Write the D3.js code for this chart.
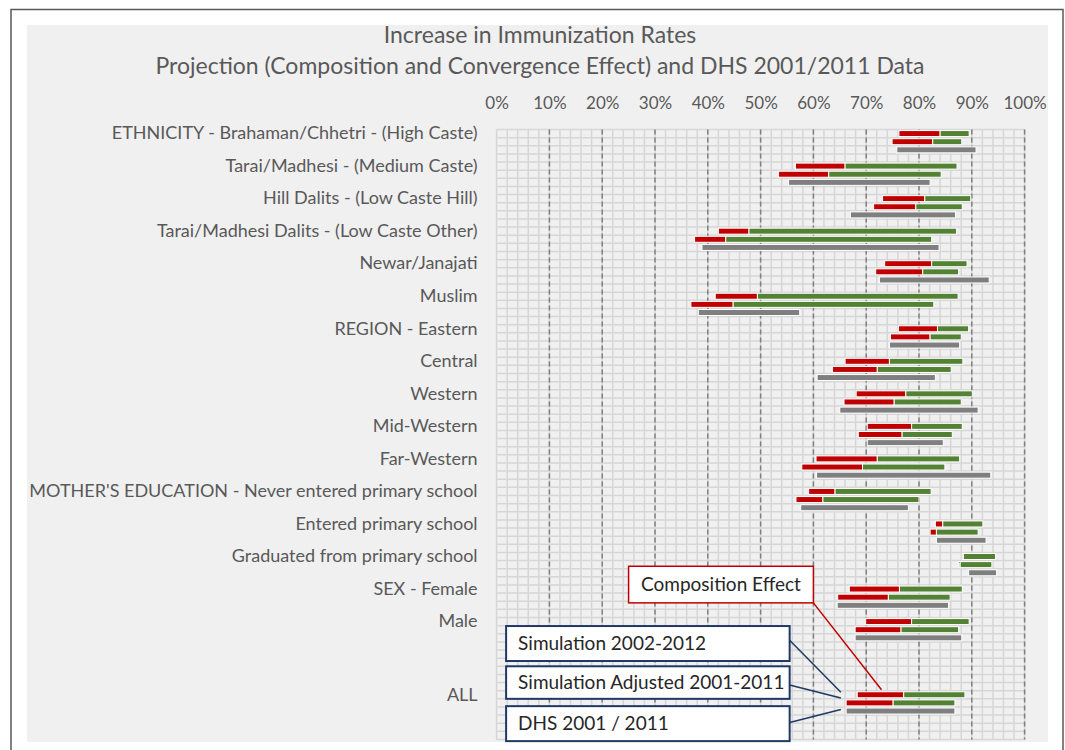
<!DOCTYPE html>
<meta charset="utf-8">
<title>Immunization</title>
<style>
  body { margin: 0; background: #fff; }
  text { font-family: Lato, "Open Sans", sans-serif; }
</style>
<body>
<script src="https://cdn.jsdelivr.net/npm/d3@7"></script>
<script>
// category labels, top to bottom
var categories = [
  "ETHNICITY - Brahaman/Chhetri - (High Caste)",
  "Tarai/Madhesi - (Medium Caste)",
  "Hill Dalits - (Low Caste Hill)",
  "Tarai/Madhesi Dalits - (Low Caste Other)",
  "Newar/Janajati",
  "Muslim",
  "REGION - Eastern",
  "Central",
  "Western",
  "Mid-Western",
  "Far-Western",
  "MOTHER'S EDUCATION - Never entered primary school",
  "Entered primary school",
  "Graduated from primary school",
  "SEX - Female",
  "Male",
  "ALL"
];

// Simulation 2002-2012: start, end of composition effect, end
var simStart = [76.2, 56.6, 73.1, 42.0, 73.5, 41.4, 76.1, 66.0, 68.1, 70.2, 60.5, 59.1, 83.1, 88.2, 66.8, 69.9, 68.3];
var simComp  = [84.0, 66.0, 81.1, 47.8, 82.4, 49.4, 83.5, 74.4, 77.5, 78.6, 72.1, 64.1, 84.5, 88.4, 76.3, 78.6, 77.1];
var simEnd   = [89.5, 87.2, 89.8, 87.1, 89.1, 87.4, 89.4, 88.3, 90.1, 88.2, 87.7, 82.3, 92.1, 94.5, 88.2, 89.5, 88.7];

// Simulation Adjusted 2001-2011
var adjStart = [74.9, 53.4, 71.4, 37.5, 71.8, 36.8, 74.6, 63.6, 65.8, 68.5, 57.8, 56.7, 82.1, 87.6, 64.6, 67.9, 66.2];
var adjComp  = [82.6, 62.9, 79.4, 43.4, 80.7, 44.8, 82.1, 72.1, 75.3, 76.8, 69.3, 61.8, 83.3, 87.8, 74.2, 76.6, 75.1];
var adjEnd   = [88.1, 84.2, 88.2, 82.4, 87.5, 82.8, 88.0, 86.1, 88.0, 86.3, 84.9, 80.0, 91.2, 93.8, 85.9, 87.5, 86.8];

// DHS 2001 / 2011
var dhs2001 = [75.8, 55.3, 67.0, 38.9, 72.5, 38.2, 74.4, 60.7, 65.0, 70.2, 60.6, 57.6, 83.3, 89.4, 64.5, 67.9, 66.2];
var dhs2011 = [90.8, 82.1, 86.9, 83.8, 93.3, 57.4, 87.7, 83.1, 91.2, 84.6, 93.6, 78.0, 92.7, 94.7, 85.6, 88.1, 86.8];

var xTicks = [0, 10, 20, 30, 40, 50, 60, 70, 80, 90, 100];

var W = 1065, H = 750;
var nRows = 75;
var red = "#c00000", green = "#548235", grey = "#7f7f7f", txt = "#595959";

var svg = d3.select("body").append("svg")
  .attr("width", W).attr("height", H);

// chart frame + plot area background
svg.append("rect").attr("x", 11).attr("y", 9.5).attr("width", 1052).attr("height", 760)
  .attr("fill", "#fff").attr("stroke", "#595959").attr("stroke-width", 1.5);
svg.append("rect").attr("x", 27).attr("y", 25).attr("width", 1021).attr("height", 717)
  .attr("fill", "#f0f0f0");

var x = d3.scaleLinear().domain([0, 100]).range([496.6, 1024.6]);
var y = d3.scaleBand().domain(d3.range(nRows)).range([129.5, 739.5]);
var bh = y.bandwidth();

// first row of each category (ALL sits one row lower than the 4-row rhythm)
function firstRow(i) { return i * 4 + (categories[i] === "ALL" ? 5 : 0); }

// grid
var grid = svg.append("g");
grid.selectAll(".h").data(d3.range(nRows + 1)).enter().append("line")
  .attr("x1", x(0)).attr("x2", x(100))
  .attr("y1", function(d) { return y.range()[0] + d * bh; })
  .attr("y2", function(d) { return y.range()[0] + d * bh; })
  .attr("stroke", "#d6d6d6").attr("stroke-width", 1.5);
grid.selectAll(".v").data(d3.range(0, 101, 2)).enter().append("line")
  .attr("x1", function(d) { return x(d); }).attr("x2", function(d) { return x(d); })
  .attr("y1", y.range()[0]).attr("y2", y.range()[1])
  .attr("stroke", "#d6d6d6").attr("stroke-width", 1.5);
grid.selectAll(".m").data(xTicks.slice(1)).enter().append("line")
  .attr("x1", function(d) { return x(d); }).attr("x2", function(d) { return x(d); })
  .attr("y1", y.range()[0]).attr("y2", y.range()[1])
  .attr("stroke", "#7f7f7f").attr("stroke-width", 1.5)
  .attr("stroke-dasharray", "5,3");

// titles
svg.append("text").attr("x", 540).attr("y", 43).attr("text-anchor", "middle")
  .style("font-size", "23px").attr("fill", txt).text("Increase in Immunization Rates");
svg.append("text").attr("x", 540).attr("y", 74).attr("text-anchor", "middle")
  .style("font-size", "23px").attr("fill", txt)
  .text("Projection (Composition and Convergence Effect) and DHS 2001/2011 Data");

// x axis on top
var xAxis = svg.append("g").attr("transform", "translate(0,111)")
  .call(d3.axisTop(x).tickValues(xTicks).tickFormat(function(d) { return d + "%"; })
    .tickSize(0).tickPadding(2));
xAxis.select(".domain").remove();
xAxis.selectAll("text").style("font-size", "17px").attr("fill", txt).style("font-family", "Lato");

// category labels
var rowToCat = {};
categories.forEach(function(c, i) { rowToCat[firstRow(i)] = c; });
var yAxis = svg.append("g").attr("transform", "translate(" + x(0) + ",0)")
  .call(d3.axisLeft(y).tickValues(categories.map(function(c, i) { return firstRow(i); }))
    .tickFormat(function(r) { return rowToCat[r]; })
    .tickSize(0).tickPadding(19));
yAxis.select(".domain").remove();
yAxis.selectAll("text").style("font-size", "18px").attr("fill", txt).style("font-family", "Lato");

// bars
var rows = [];
categories.forEach(function(c, i) {
  var r = firstRow(i);
  rows.push({row: r, a: simStart[i], b: simComp[i], color: red});
  rows.push({row: r, a: simComp[i], b: simEnd[i], color: green});
  rows.push({row: r + 1, a: adjStart[i], b: adjComp[i], color: red});
  rows.push({row: r + 1, a: adjComp[i], b: adjEnd[i], color: green});
  rows.push({row: r + 2, a: dhs2001[i], b: dhs2011[i], color: grey});
});
var barH = 6;
svg.append("g").selectAll("rect").data(rows).enter().append("rect")
  .attr("x", function(d) { return x(d.a); })
  .attr("width", function(d) { return Math.max(0.5, x(d.b) - x(d.a)); })
  .attr("y", function(d) { return y(d.row) + (bh - barH) / 2; })
  .attr("height", barH)
  .attr("fill", function(d) { return d.color; })
  .attr("stroke", "#fff").attr("stroke-width", 1);

// annotations
var allI = categories.length - 1, allRow = firstRow(allI);
function rowY(r) { return y.range()[0] + r * bh; }

var ann = svg.append("g");
// composition effect callout
ann.append("line")
  .attr("x1", x(60)).attr("y1", rowY(58.2))
  .attr("x2", x(72.9)).attr("y2", y(allRow) - 1)
  .attr("stroke", red).attr("stroke-width", 1.5);
ann.append("rect").attr("x", x(25)).attr("y", rowY(53.7))
  .attr("width", x(60) - x(25)).attr("height", rowY(58.2) - rowY(53.7))
  .attr("fill", "#fff").attr("stroke", red).attr("stroke-width", 1.5);
ann.append("text").attr("x", (x(25) + x(60)) / 2).attr("y", rowY(55.95) + 6.5)
  .attr("text-anchor", "middle").style("font-size", "19px").attr("fill", "#262626")
  .text("Composition Effect");

// series callouts
var callouts = [
  {label: "Simulation 2002-2012", top: 61.05, bottom: 65.35, fromY: 62.8, toRow: allRow + 0.2},
  {label: "Simulation Adjusted 2001-2011", top: 66.0, bottom: 70.0, fromY: 68.3, toRow: allRow + 0.9},
  {label: "DHS 2001 / 2011", top: 70.9, bottom: 75.2, fromY: 72.9, toRow: allRow + 2.3}
];
callouts.forEach(function(c) {
  ann.append("line")
    .attr("x1", x(55.5)).attr("y1", rowY(c.fromY))
    .attr("x2", x(65.2)).attr("y2", rowY(c.toRow))
    .attr("stroke", "#203864").attr("stroke-width", 1.5);
  ann.append("rect").attr("x", x(1.8)).attr("y", rowY(c.top))
    .attr("width", x(55.5) - x(1.8)).attr("height", rowY(c.bottom) - rowY(c.top))
    .attr("fill", "#fff").attr("stroke", "#203864").attr("stroke-width", 2);
  ann.append("text").attr("x", x(1.8) + 12).attr("y", rowY((c.top + c.bottom) / 2) + 6.5)
    .style("font-size", "19px").attr("fill", "#262626").text(c.label);
});
</script>
</body>
